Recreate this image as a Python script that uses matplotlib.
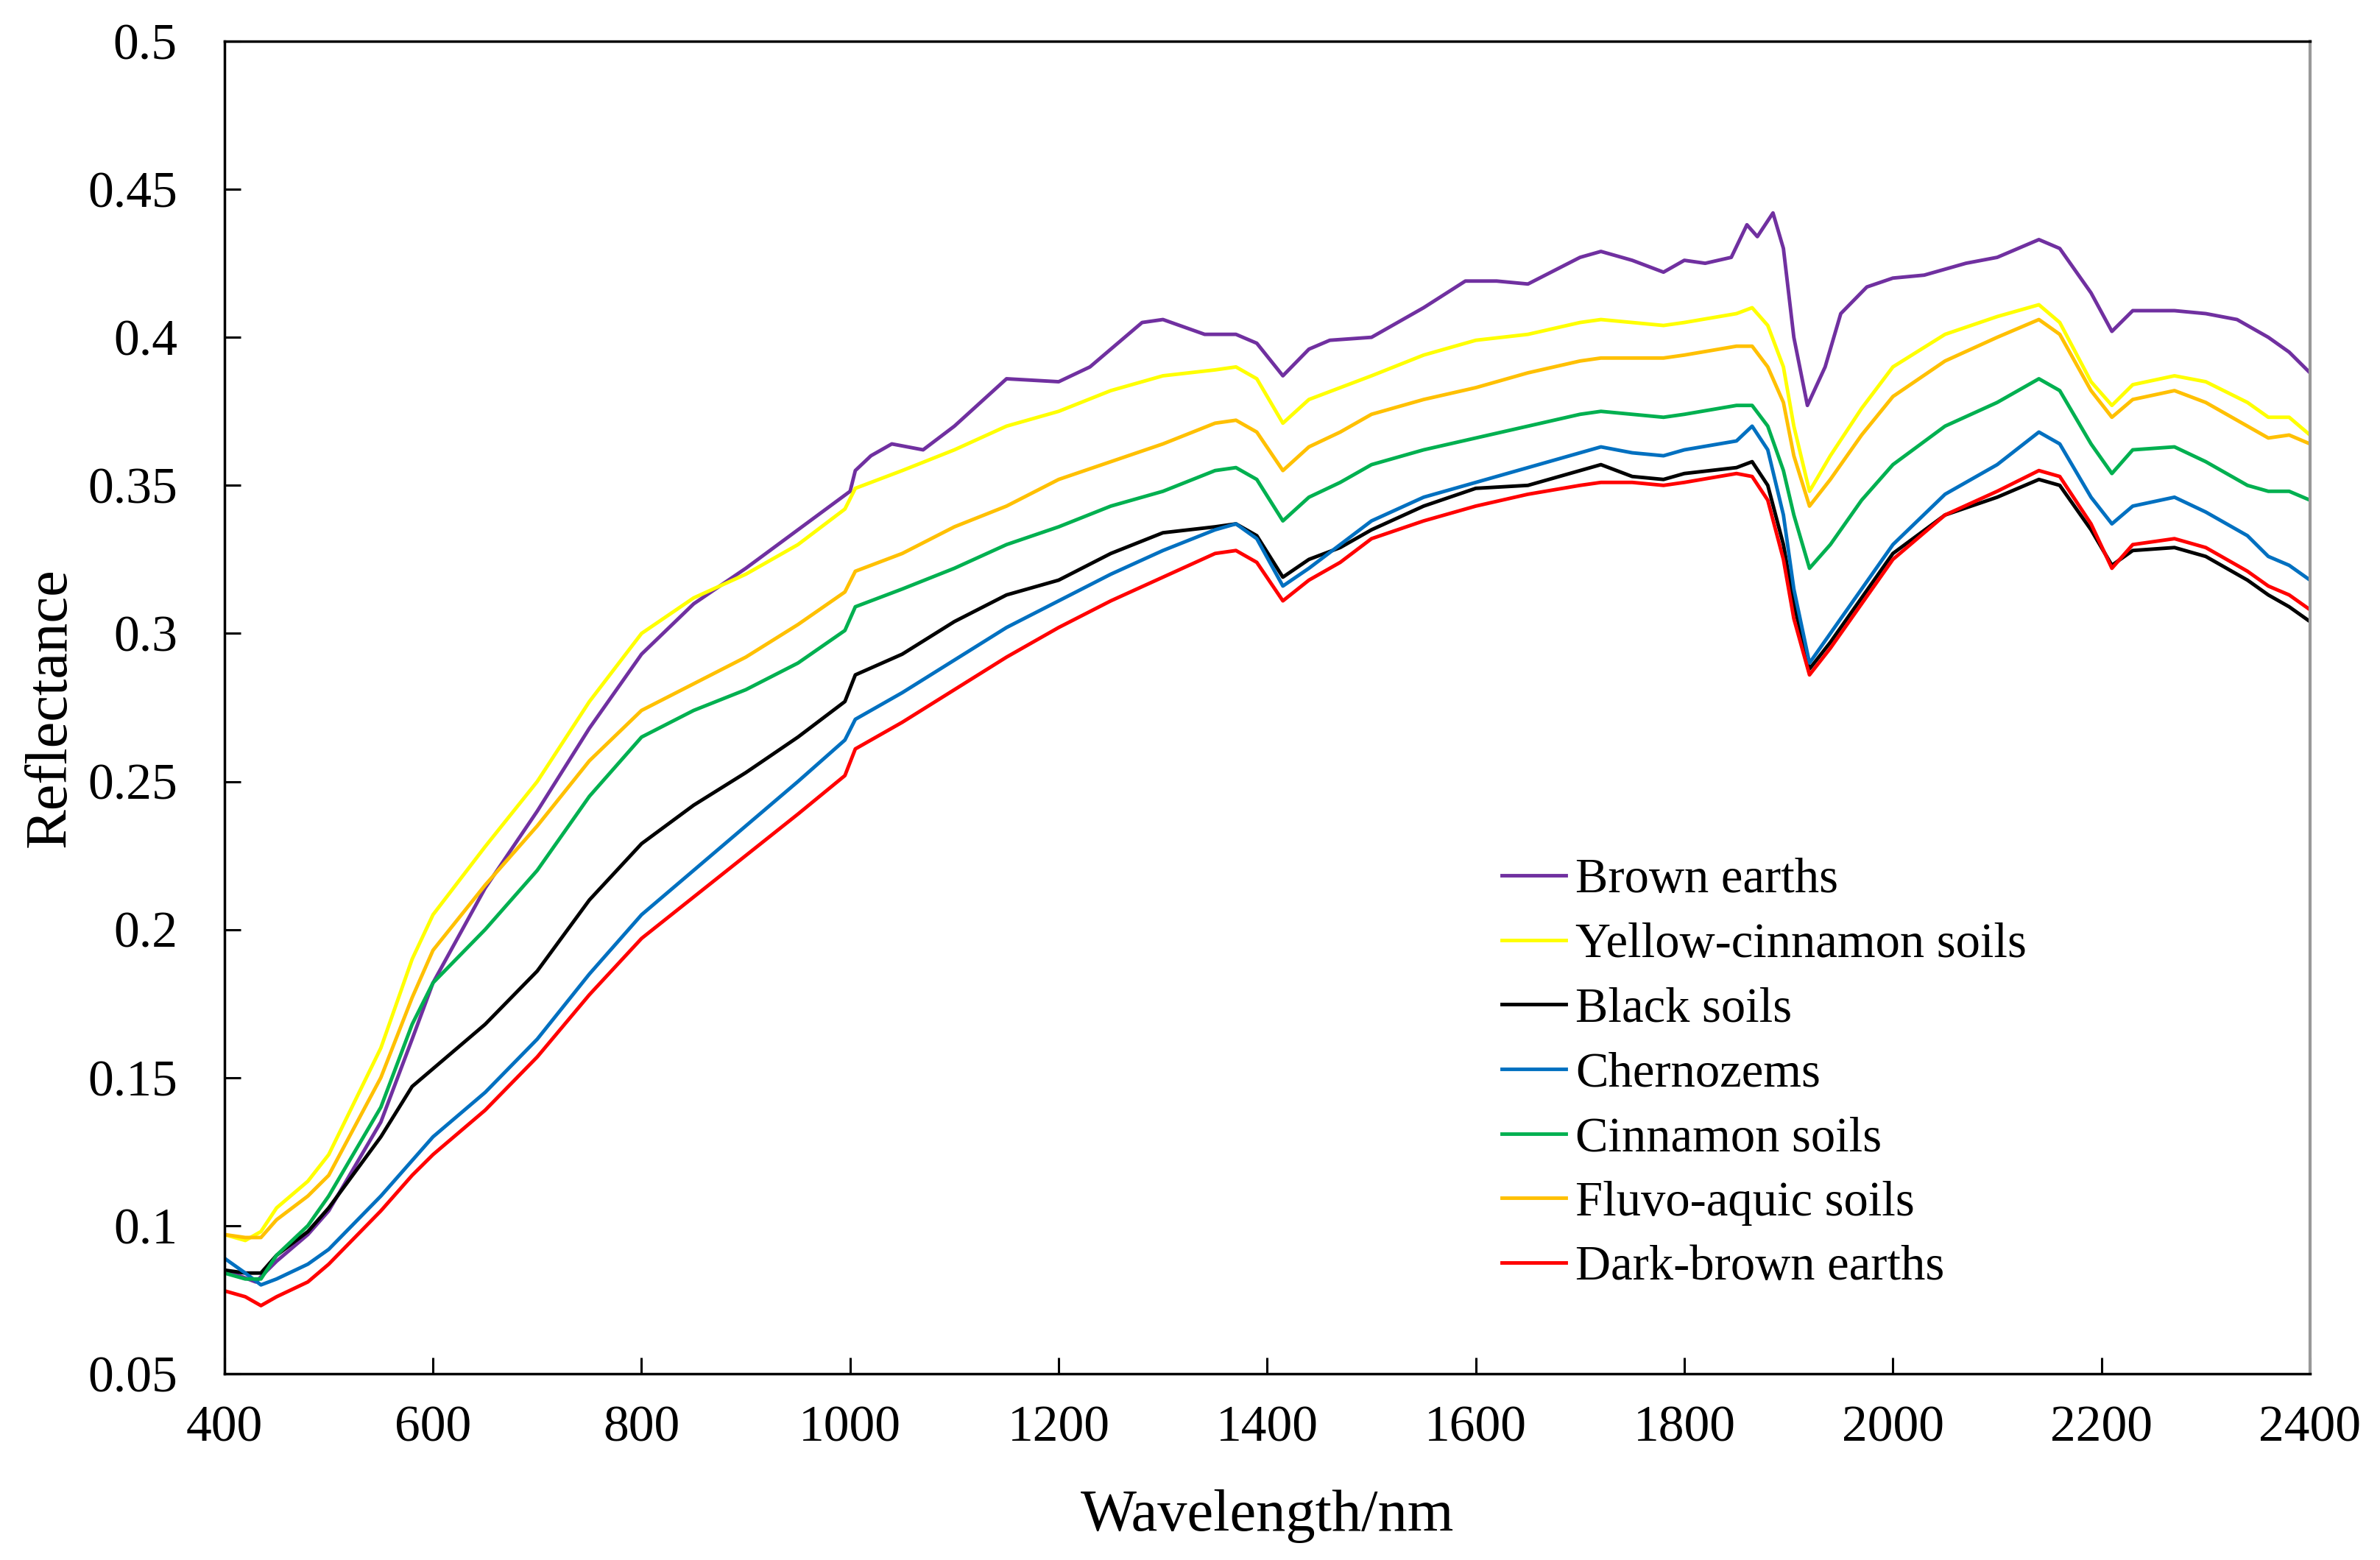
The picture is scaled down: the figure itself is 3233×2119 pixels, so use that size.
import matplotlib.pyplot as plt

plt.rcParams['font.family'] = ['Liberation Serif', 'DejaVu Serif']

# wavelengths (nm) shared by most series
wl = [400, 420, 435, 450, 480, 500, 550, 580, 600, 650, 700, 750, 800, 850, 900,
      950, 995, 1005, 1050, 1100, 1150, 1200, 1250, 1300, 1350, 1370, 1390, 1415,
      1440, 1470, 1500, 1550, 1600, 1650, 1700, 1720, 1750, 1780, 1800, 1850, 1865,
      1880, 1895, 1905, 1920, 1940, 1970, 2000, 2050, 2100, 2140, 2160, 2190, 2210,
      2230, 2270, 2300, 2340, 2360, 2380, 2400]

# brown earths has its own extra bumps
wl_brown = [400, 430, 450, 480, 500, 550, 580, 600, 650, 700, 750, 800, 850, 900, 950,
            1000, 1005, 1020, 1040, 1070, 1100, 1150, 1200, 1230, 1280, 1300, 1340,
            1370, 1390, 1415, 1440, 1460, 1500, 1550, 1590, 1620, 1650, 1700, 1720,
            1750, 1780, 1800, 1820, 1845, 1860, 1870, 1885, 1895, 1905, 1918, 1935,
            1950, 1975, 2000, 2030, 2070, 2100, 2120, 2140, 2160, 2190, 2210, 2230,
            2270, 2300, 2330, 2360, 2380, 2400]

brown_earths = [0.085, 0.081, 0.088, 0.097, 0.105, 0.135, 0.163, 0.182, 0.214, 0.240,
                0.268, 0.293, 0.310, 0.322, 0.335, 0.348, 0.355, 0.360, 0.364, 0.362,
                0.370, 0.386, 0.385, 0.390, 0.405, 0.406, 0.401, 0.401, 0.398, 0.387,
                0.396, 0.399, 0.400, 0.410, 0.419, 0.419, 0.418, 0.427, 0.429, 0.426,
                0.422, 0.426, 0.425, 0.427, 0.438, 0.434, 0.442, 0.430, 0.400, 0.377,
                0.390, 0.408, 0.417, 0.420, 0.421, 0.425, 0.427, 0.430, 0.433, 0.430,
                0.415, 0.402, 0.409, 0.409, 0.408, 0.406, 0.400, 0.395, 0.388]

yellow_cinnamon = [0.097, 0.095, 0.098, 0.106, 0.115, 0.124, 0.160, 0.190, 0.205, 0.228,
                   0.250, 0.277, 0.300, 0.312, 0.320, 0.330, 0.342, 0.349, 0.355, 0.362,
                   0.370, 0.375, 0.382, 0.387, 0.389, 0.390, 0.386, 0.371, 0.379, 0.383,
                   0.387, 0.394, 0.399, 0.401, 0.405, 0.406, 0.405, 0.404, 0.405, 0.408,
                   0.410, 0.404, 0.390, 0.370, 0.348, 0.360, 0.376, 0.390, 0.401, 0.407,
                   0.411, 0.405, 0.385, 0.377, 0.384, 0.387, 0.385, 0.378, 0.373, 0.373,
                   0.367]

black_soils = [0.085, 0.084, 0.084, 0.090, 0.098, 0.106, 0.130, 0.147, 0.153, 0.168,
               0.186, 0.210, 0.229, 0.242, 0.253, 0.265, 0.277, 0.286, 0.293, 0.304,
               0.313, 0.318, 0.327, 0.334, 0.336, 0.337, 0.333, 0.319, 0.325, 0.329,
               0.335, 0.343, 0.349, 0.350, 0.355, 0.357, 0.353, 0.352, 0.354, 0.356,
               0.358, 0.350, 0.330, 0.310, 0.288, 0.297, 0.312, 0.327, 0.340, 0.346,
               0.352, 0.350, 0.335, 0.323, 0.328, 0.329, 0.326, 0.318, 0.313, 0.309,
               0.304]

chernozems = [0.089, 0.084, 0.080, 0.082, 0.087, 0.092, 0.110, 0.122, 0.130, 0.145,
              0.163, 0.185, 0.205, 0.220, 0.235, 0.250, 0.264, 0.271, 0.280, 0.291,
              0.302, 0.311, 0.320, 0.328, 0.335, 0.337, 0.332, 0.316, 0.322, 0.330,
              0.338, 0.346, 0.351, 0.356, 0.361, 0.363, 0.361, 0.360, 0.362, 0.365,
              0.370, 0.362, 0.340, 0.315, 0.290, 0.300, 0.315, 0.330, 0.347, 0.357,
              0.368, 0.364, 0.346, 0.337, 0.343, 0.346, 0.341, 0.333, 0.326, 0.323,
              0.318]

cinnamon = [0.084, 0.082, 0.082, 0.090, 0.100, 0.110, 0.140, 0.168, 0.182, 0.200,
            0.220, 0.245, 0.265, 0.274, 0.281, 0.290, 0.301, 0.309, 0.315, 0.322,
            0.330, 0.336, 0.343, 0.348, 0.355, 0.356, 0.352, 0.338, 0.346, 0.351,
            0.357, 0.362, 0.366, 0.370, 0.374, 0.375, 0.374, 0.373, 0.374, 0.377,
            0.377, 0.370, 0.355, 0.340, 0.322, 0.330, 0.345, 0.357, 0.370, 0.378,
            0.386, 0.382, 0.364, 0.354, 0.362, 0.363, 0.358, 0.350, 0.348, 0.348,
            0.345]

fluvo_aquic = [0.097, 0.096, 0.096, 0.102, 0.110, 0.117, 0.150, 0.177, 0.193, 0.215,
               0.235, 0.257, 0.274, 0.283, 0.292, 0.303, 0.314, 0.321, 0.327, 0.336,
               0.343, 0.352, 0.358, 0.364, 0.371, 0.372, 0.368, 0.355, 0.363, 0.368,
               0.374, 0.379, 0.383, 0.388, 0.392, 0.393, 0.393, 0.393, 0.394, 0.397,
               0.397, 0.390, 0.378, 0.360, 0.343, 0.352, 0.367, 0.380, 0.392, 0.400,
               0.406, 0.401, 0.382, 0.373, 0.379, 0.382, 0.378, 0.370, 0.366, 0.367,
               0.364]

dark_brown = [0.078, 0.076, 0.073, 0.076, 0.081, 0.087, 0.105, 0.117, 0.124, 0.139,
              0.157, 0.178, 0.197, 0.211, 0.225, 0.239, 0.252, 0.261, 0.270, 0.281,
              0.292, 0.302, 0.311, 0.319, 0.327, 0.328, 0.324, 0.311, 0.318, 0.324,
              0.332, 0.338, 0.343, 0.347, 0.350, 0.351, 0.351, 0.350, 0.351, 0.354,
              0.353, 0.345, 0.325, 0.305, 0.286, 0.295, 0.310, 0.325, 0.340, 0.348,
              0.355, 0.353, 0.337, 0.322, 0.330, 0.332, 0.329, 0.321, 0.316, 0.313,
              0.308]

fig = plt.figure(figsize=(32.33, 21.19), dpi=100)
ax = fig.add_axes([0.0943, 0.1194, 0.8763, 0.8542])

lw = 3.5
ax.plot(wl_brown, brown_earths, color='#7030A0', lw=lw, label='Brown earths')
ax.plot(wl, yellow_cinnamon, color='#FFFF00', lw=lw, label='Yellow-cinnamon soils')
ax.plot(wl, black_soils, color='#000000', lw=lw, label='Black soils')
ax.plot(wl, chernozems, color='#0070C0', lw=lw, label='Chernozems')
ax.plot(wl, cinnamon, color='#00B050', lw=lw, label='Cinnamon soils')
ax.plot(wl, fluvo_aquic, color='#FFC000', lw=lw, label='Fluvo-aquic soils')
ax.plot(wl, dark_brown, color='#FF0000', lw=lw, label='Dark-brown earths')

ax.set_xlim(400, 2400)
ax.set_ylim(0.05, 0.5)
ax.set_xticks(range(400, 2401, 200))
ax.set_yticks([0.05, 0.1, 0.15, 0.2, 0.25, 0.3, 0.35, 0.4, 0.45, 0.5])
ax.set_yticklabels(['0.05', '0.1', '0.15', '0.2', '0.25', '0.3', '0.35', '0.4', '0.45', '0.5'])

ax.tick_params(axis='both', direction='in', length=16, width=2.2, labelsize=50)
ax.tick_params(axis='x', pad=31)
ax.tick_params(axis='y', pad=46)

for side in ['left', 'bottom', 'top']:
    ax.spines[side].set_linewidth(2.5)
ax.spines['right'].set_color('#999999')
ax.spines['right'].set_linewidth(3)

ax.set_xlabel('Wavelength/nm', fontsize=58, labelpad=36)
ax.set_ylabel('Reflectance', fontsize=58, labelpad=10)

ax.legend(loc='upper left', bbox_to_anchor=(0.631, 0.450), bbox_transform=fig.transFigure,
          frameon=False, fontsize=48, handlelength=1.3, handletextpad=0.2,
          labelspacing=0.40, borderpad=0, borderaxespad=0)

fig.savefig('out.png', dpi=100)
